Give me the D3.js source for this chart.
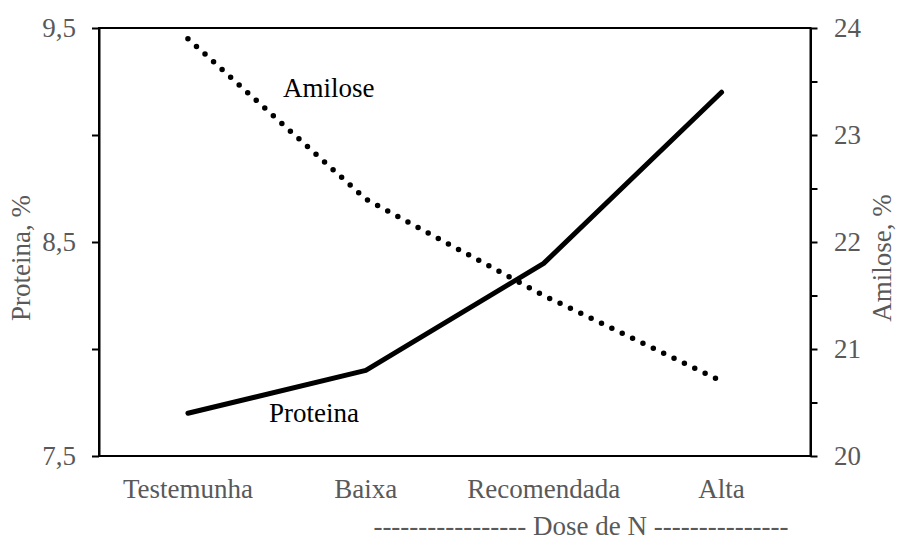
<!DOCTYPE html>
<html>
<head>
<meta charset="utf-8">
<script src="https://d3js.org/d3.v7.min.js"></script>
<style>
  body { margin: 0; background: #fff; }
  text { font-family: "Liberation Serif", "Times New Roman", serif; }
</style>
</head>
<body>
<svg width="898" height="542"></svg>
<script>
// dados
var doses = ["Testemunha", "Baixa", "Recomendada", "Alta"];
var proteina = [7.7, 7.9, 8.4, 9.2];
var amilose = [23.9, 22.4, 21.5, 20.7];
var ticksProteina = [7.5, 8, 8.5, 9, 9.5];
var labelsProteina = [7.5, 8.5, 9.5];
var ticksAmilose = [20, 20.5, 21, 21.5, 22, 22.5, 23, 23.5, 24];
var labelsAmilose = [20, 21, 22, 23, 24];

var svg = d3.select("svg");
var pLeft = 99, pRight = 810.5, pTop = 28, pBottom = 456;
var grey = "#595959";
var fs = 27;

var x = d3.scalePoint().domain(doses).range([pLeft, pRight]).padding(0.5);
var yL = d3.scaleLinear().domain([7.5, 9.5]).range([pBottom, pTop]);
var yR = d3.scaleLinear().domain([20, 24]).range([pBottom, pTop]);

// moldura (eixos + linhas superior e inferior)
svg.append("rect")
  .attr("x", pLeft).attr("y", pTop)
  .attr("width", pRight - pLeft).attr("height", pBottom - pTop)
  .attr("fill", "none").attr("stroke", "#000").attr("stroke-width", 2);

// eixo esquerdo
var axL = svg.append("g").attr("transform", "translate(" + pLeft + ",0)")
  .call(d3.axisLeft(yL).tickValues(ticksProteina).tickSize(7).tickSizeOuter(0).tickFormat(""));
axL.select(".domain").attr("stroke-width", 2);
axL.selectAll(".tick line").attr("stroke-width", 2);
svg.append("g").selectAll("text")
  .data(labelsProteina).enter().append("text")
  .attr("x", 76).attr("y", function(d){ return yL(d); })
  .attr("dy", "0.32em").attr("text-anchor", "end")
  .attr("font-size", fs).attr("fill", grey)
  .text(function(d){ return d3.format(".1f")(d).replace(".", ","); });

// eixo direito
var axR = svg.append("g").attr("transform", "translate(" + pRight + ",0)")
  .call(d3.axisRight(yR).tickValues(ticksAmilose).tickSize(7).tickSizeOuter(0).tickFormat(""));
axR.select(".domain").attr("stroke-width", 2);
axR.selectAll(".tick line").attr("stroke-width", 2);
svg.append("g").selectAll("text")
  .data(labelsAmilose).enter().append("text")
  .attr("x", 834).attr("y", function(d){ return yR(d); })
  .attr("dy", "0.32em").attr("text-anchor", "start")
  .attr("font-size", fs).attr("fill", grey)
  .text(function(d){ return d; });

// rotulos categorias
svg.append("g").selectAll("text")
  .data(doses).enter().append("text")
  .attr("x", function(d){ return x(d); }).attr("y", 498)
  .attr("text-anchor", "middle").attr("font-size", fs).attr("fill", grey)
  .text(function(d){ return d; });

svg.append("text")
  .attr("x", 581).attr("y", 535).attr("text-anchor", "middle")
  .attr("font-size", fs).attr("fill", grey)
  .text("----------------- Dose de N ---------------");

// titulos dos eixos
svg.append("text")
  .attr("transform", "translate(30,258) rotate(-90)")
  .attr("text-anchor", "middle").attr("font-size", fs).attr("fill", grey)
  .text("Proteina, %");
svg.append("text")
  .attr("transform", "translate(891,258) rotate(-90)")
  .attr("text-anchor", "middle").attr("font-size", fs).attr("fill", grey)
  .text("Amilose, %");

// linhas
var lineP = d3.line()
  .x(function(d, i){ return x(doses[i]); })
  .y(function(d){ return yL(d); });
var lineA = d3.line()
  .x(function(d, i){ return x(doses[i]); })
  .y(function(d){ return yR(d); });

svg.append("path").datum(proteina)
  .attr("d", lineP).attr("fill", "none")
  .attr("stroke", "#000").attr("stroke-width", 5)
  .attr("stroke-linecap", "round").attr("stroke-linejoin", "round");

svg.append("path").datum(amilose)
  .attr("d", lineA).attr("fill", "none")
  .attr("stroke", "#000").attr("stroke-width", 5.5)
  .attr("stroke-linecap", "round")
  .attr("stroke-dasharray", "0 11.5");

// rotulos das series
svg.append("text").attr("x", 283).attr("y", 97)
  .attr("font-size", fs).attr("fill", "#000").text("Amilose");
svg.append("text").attr("x", 269).attr("y", 422)
  .attr("font-size", fs).attr("fill", "#000").text("Proteina");
</script>
</body>
</html>
